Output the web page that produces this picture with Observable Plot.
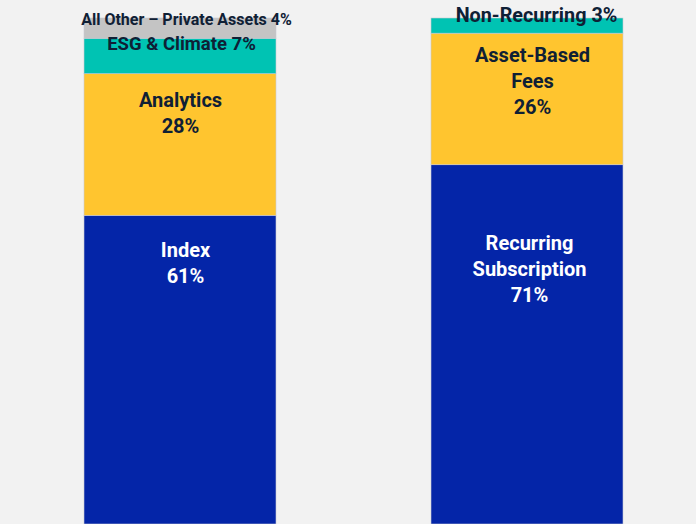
<!DOCTYPE html>
<html>
<head>
<meta charset="utf-8">
<script src="https://cdn.jsdelivr.net/npm/d3@7"></script>
<script src="https://cdn.jsdelivr.net/npm/@observablehq/plot@0.6"></script>
<style>
  html, body { margin: 0; padding: 0; background: #f2f2f2; overflow: hidden; }
</style>
</head>
<body>
<div id="chart"></div>
<script>
// ---- data ----
const bars = ["Product Line", "Revenue Type"];
const productNames = ["Index", "Analytics", "ESG & Climate", "All Other – Private Assets"];
const productValues = [61, 28, 7, 4];
const typeNames = ["Recurring Subscription", "Asset-Based Fees", "Non-Recurring"];
const typeValues = [71, 26, 3];

// ---- styles (by segment name) ----
const BLUE = "#0425a8", YELLOW = "#ffc52f", TEAL = "#00c3b3", GREY = "#c4c4c4";
const DARK = "#0f2035";
const style = {
  "Index":                      {fill: BLUE,   ink: "white", size: 20,   multi: true,  dy: 23,  dx: 5},
  "Analytics":                  {fill: YELLOW, ink: DARK,    size: 20,   multi: true,  dy: 14,  dx: 0},
  "ESG & Climate":              {fill: TEAL,   ink: DARK,    size: 18.5, multi: false, dy: 3.5, dx: 1},
  "All Other – Private Assets": {fill: GREY,   ink: DARK,    size: 16,   multi: false, dy: -0.5, dx: 6},
  "Recurring Subscription":     {fill: BLUE,   ink: "white", size: 20,   multi: true,  dy: 66,  dx: 2},
  "Asset-Based Fees":           {fill: YELLOW, ink: DARK,    size: 20,   multi: true,  dy: 10,  dx: 5},
  "Non-Recurring":              {fill: TEAL,   ink: DARK,    size: 19.8, multi: false, dy: -5,  dx: 9}
};

function buildRows(bar, names, values) {
  let acc = 0;
  return names.map((name, i) => {
    const y1 = acc; acc += values[i];
    const s = style[name];
    const label = s.multi
      ? name.replace(" ", "\n") + "\n" + values[i] + "%"
      : name + " " + values[i] + "%";
    return {bar, name, value: values[i], y1, y2: acc, label, ...s};
  });
}
const rows = [
  ...buildRows(bars[0], productNames, productValues),
  ...buildRows(bars[1], typeNames, typeValues)
];

const textMarks = rows.map(r => Plot.text([r], {
  x: "bar", y: "y2", text: "label",
  fill: r.ink, fontSize: r.size, fontWeight: 700,
  lineAnchor: r.multi ? "top" : "middle",
  lineHeight: 1.3, dy: r.dy, dx: r.dx
}));

const chart = Plot.plot({
  width: 696,
  height: 524,
  margin: 0,
  style: {background: "#f2f2f2", fontFamily: "Roboto, 'Noto Sans', sans-serif", overflow: "hidden"},
  x: {domain: bars, range: [84, 623], paddingInner: 0.4467, paddingOuter: 0, axis: null},
  y: {domain: [0, 100], range: [524, 18], axis: null},
  color: {type: "identity"},
  marks: [
    Plot.rectY(rows, {x: "bar", y1: "y1", y2: "y2", fill: "fill", stroke: "#c9c9d2", strokeWidth: 0.6}),
    ...textMarks
  ]
});
document.getElementById("chart").appendChild(chart);
</script>
</body>
</html>
